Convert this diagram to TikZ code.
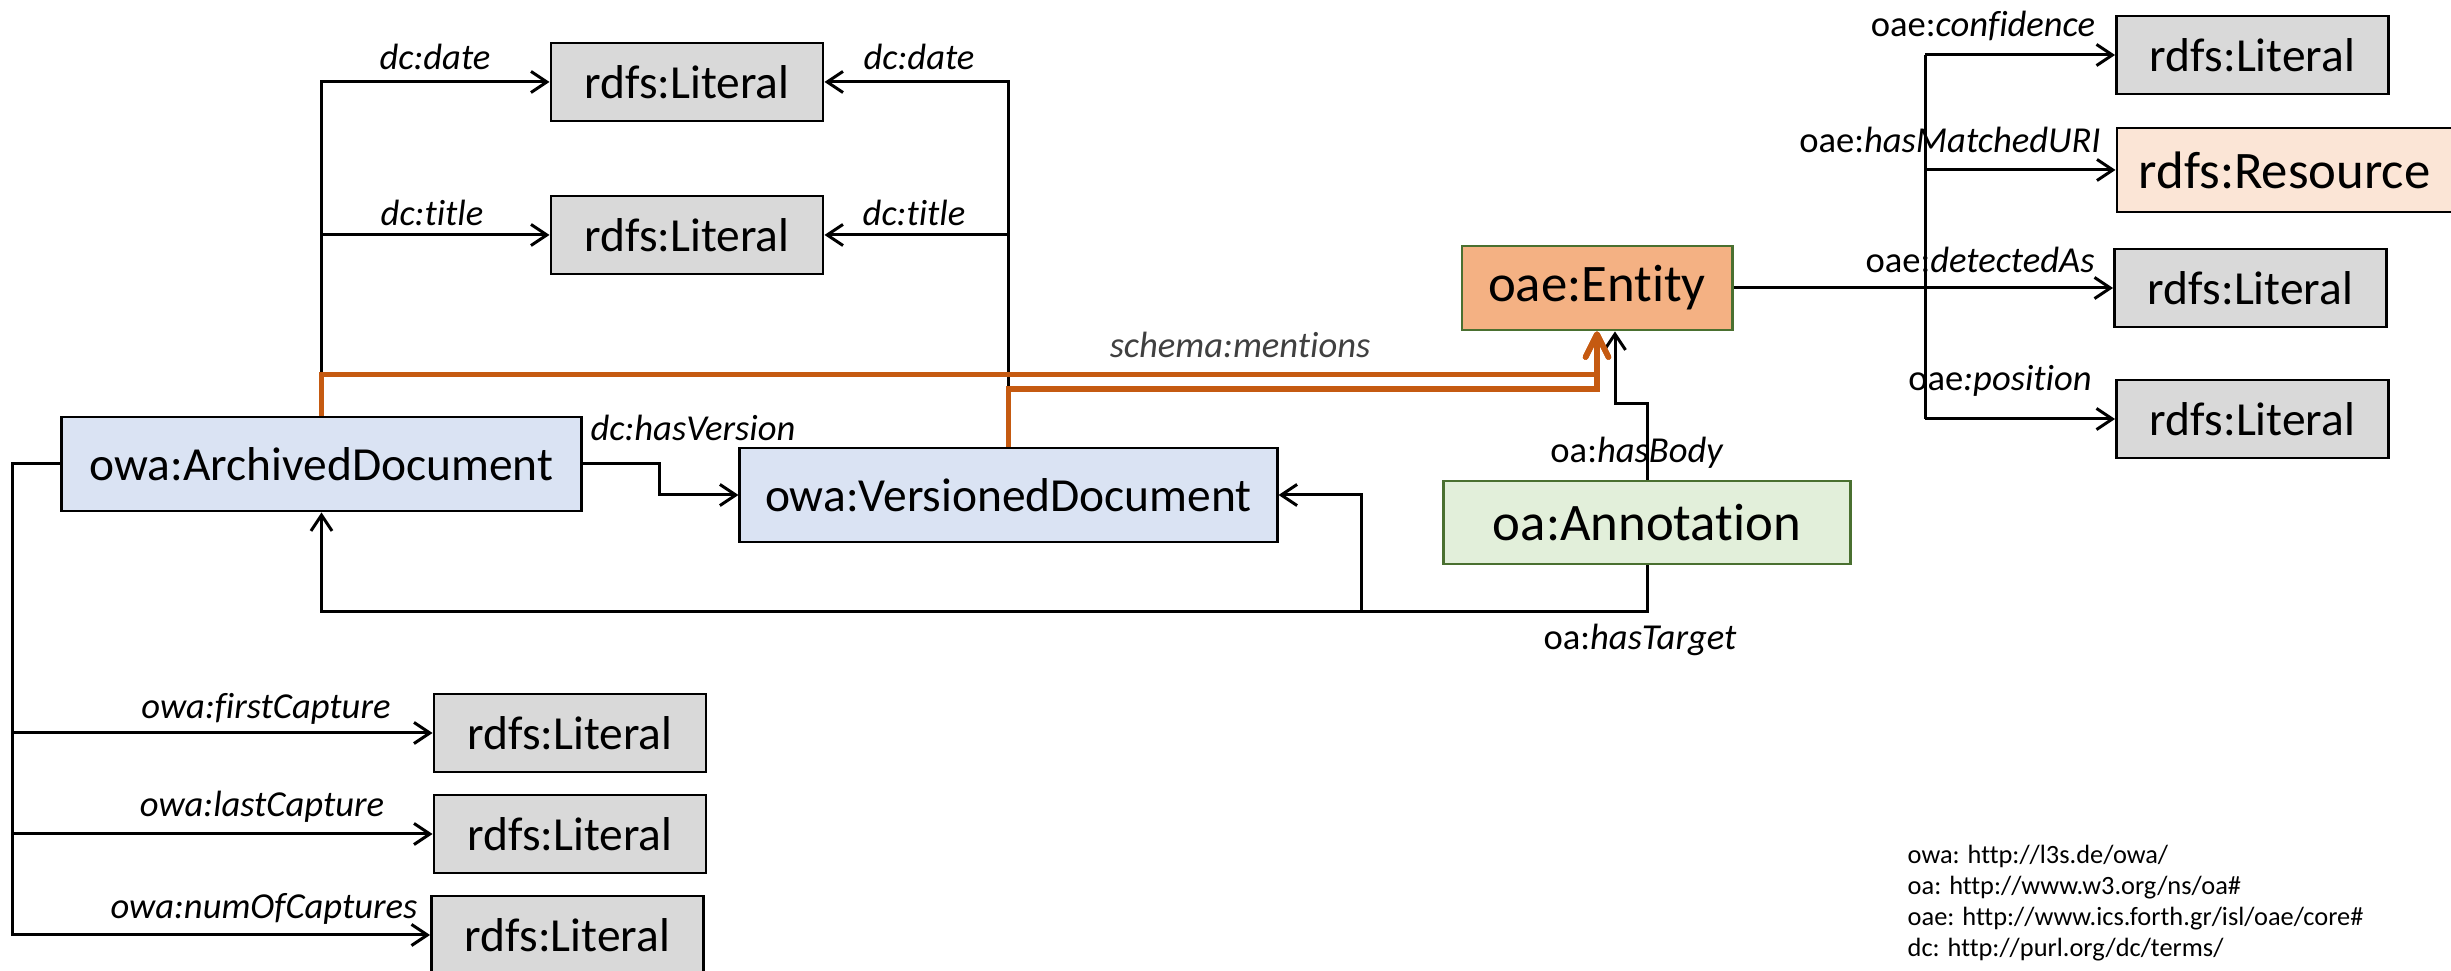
\documentclass[tikz,border=0pt]{standalone}
\usepackage{fontspec}
\setmainfont{Carlito}[RawFeature={-liga}]
\usetikzlibrary{arrows.meta}
\definecolor{litfill}{HTML}{D9D9D9}
\definecolor{docfill}{HTML}{DAE3F3}
\definecolor{entfill}{HTML}{F4B183}
\definecolor{resfill}{HTML}{FBE5D6}
\definecolor{annfill}{HTML}{E2EFDA}
\definecolor{greenline}{HTML}{4A7030}
\definecolor{mentcol}{HTML}{C55A11}
\definecolor{labelgray}{HTML}{404040}
\tikzset{
  box/.style={draw=black, line width=0.8pt, inner sep=0pt, font=\fontsize{13.5}{16}\selectfont},
  bigbox/.style={box, font=\fontsize{15}{18}\selectfont},
  litbox/.style={box, fill=litfill, minimum width=2.72cm, minimum height=0.78cm},
  docbox/.style={box, fill=docfill, minimum height=0.94cm},
  rel/.style={line width=0.85pt, -{Straight Barb[length=4.5pt,width=6pt]}},
  plain/.style={line width=0.85pt},
  ment/.style={draw=mentcol, line width=1.6pt, -{Straight Barb[round,length=6.5pt,width=6.5pt]}},
  lbl/.style={inner sep=0pt, font=\fontsize{10.4}{12}\selectfont\itshape},
  mlbl/.style={inner sep=0pt, font=\fontsize{10.4}{12}\selectfont},
  nsline/.style={inner sep=0pt, anchor=base west, font=\fontsize{7.5}{9}\selectfont},
}
\begin{document}
\begin{tikzpicture}[x=0.01cm, y=-0.01cm]
\useasboundingbox (0,0) rectangle (2451,971);

% classes
\node[docbox, minimum width=5.19cm] (archived) at (321.5,464) {owa:ArchivedDocument};
\node[docbox, minimum width=5.37cm] (versioned) at (1008.5,495) {owa:VersionedDocument};
\node[bigbox, draw=greenline, fill=entfill, minimum width=2.70cm, minimum height=0.84cm] (entity) at (1597,288) {oae:Entity};
\node[bigbox, draw=greenline, fill=annfill, minimum width=4.06cm, minimum height=0.83cm] (annotation) at (1647,522.5) {oa:Annotation};
\node[bigbox, fill=resfill, minimum width=3.35cm, minimum height=0.84cm] (resource) at (2284.5,170) {rdfs:Resource};

% literals
\node[litbox] (litDate) at (687,82) {rdfs:Literal};
\node[litbox] (litTitle) at (687,235) {rdfs:Literal};
\node[litbox] (litConf) at (2252.5,55) {rdfs:Literal};
\node[litbox] (litDet) at (2250.5,288) {rdfs:Literal};
\node[litbox] (litPos) at (2252.5,419) {rdfs:Literal};
\node[litbox] (litFirst) at (570,733) {rdfs:Literal};
\node[litbox] (litLast) at (570,834) {rdfs:Literal};
\node[litbox] (litNum) at (567.5,935) {rdfs:Literal};

% routing points
\coordinate (m1) at (1597,374.5);
\coordinate (m2) at (1597,389);
\coordinate (hv) at (659,480);
\coordinate (busx) at (12.6,0);
\coordinate (hb) at (1615,404);
\coordinate (ht) at (1647,612);
\coordinate (htb) at (1361,612);
\coordinate (ebus) at (1925,0);

% dc:date / dc:title
\draw[rel] (archived.north) |- (litDate.west);
\draw[rel] (archived.north |- litTitle.west) -- (litTitle.west);
\draw[rel] (versioned.north) |- (litDate.east);
\draw[rel] (versioned.north |- litTitle.east) -- (litTitle.east);

% dc:hasVersion
\draw[rel] (archived.east) -| (hv) |- (versioned.west);

% capture properties
\draw[rel] (archived.west) -- (archived.west -| busx) |- (litNum.west);
\draw[rel] (busx |- litFirst.west) -- (litFirst.west);
\draw[rel] (busx |- litLast.west) -- (litLast.west);

% oa:hasTarget
\draw[rel] (annotation.south) -- (ht) -| (archived.south);
\draw[rel] (htb) |- (versioned.east);

% oa:hasBody
\draw[rel] (annotation.north) |- (hb) -- (hb |- entity.south);

% schema:mentions
\draw[ment] (archived.north) |- (m1) -- (entity.south);
\draw[ment] (versioned.north) |- (m2) -- (entity.south);

% entity properties
\draw[plain] (ebus |- litConf.west) -- (ebus |- litPos.west);
\draw[rel] (entity.east) -- (litDet.west);
\draw[rel] (ebus |- litConf.west) -- (litConf.west);
\draw[rel] (ebus |- resource.west) -- (resource.west);
\draw[rel] (ebus |- litPos.west) -- (litPos.west);

% property labels
\node[lbl] (lDate1) at (435,57) {dc:date};
\node[lbl] (lDate2) at (919,57) {dc:date};
\node[lbl] (lTitle1) at (432,213) {dc:title};
\node[lbl] (lTitle2) at (914,213) {dc:title};
\node[lbl] (lVersion) at (693,428) {dc:hasVersion};
\node[lbl, text=labelgray] (lMent) at (1240,345) {schema:mentions};
\node[mlbl] (lBody) at (1637,453) {oa:\textit{hasBody}};
\node[mlbl] (lTarget) at (1640,640) {oa:\textit{hasTarget}};
\node[mlbl] (lConf) at (1983,26) {oae:\textit{confidence}};
\node[mlbl] (lMatch) at (1950,140) {oae:\textit{hasMatchedURI}};
\node[mlbl] (lDet) at (1980,260) {oae:\textit{detectedAs}};
\node[mlbl] (lPos) at (2000,381) {oae\textit{:position}};
\node[lbl] (lFirst) at (266,709) {owa:firstCapture};
\node[lbl] (lLast) at (262,807) {owa:lastCapture};
\node[lbl] (lNum) at (264,909) {owa:numOfCaptures};

% namespaces
\node[nsline] (ns1) at (1907,864) {owa: http://l3s.de/owa/};
\node[nsline] (ns2) at (1907,895) {oa: http://www.w3.org/ns/oa\#};
\node[nsline] (ns3) at (1907,926) {oae: http://www.ics.forth.gr/isl/oae/core\#};
\node[nsline] (ns4) at (1907,957) {dc: http://purl.org/dc/terms/};
\end{tikzpicture}
\end{document}
